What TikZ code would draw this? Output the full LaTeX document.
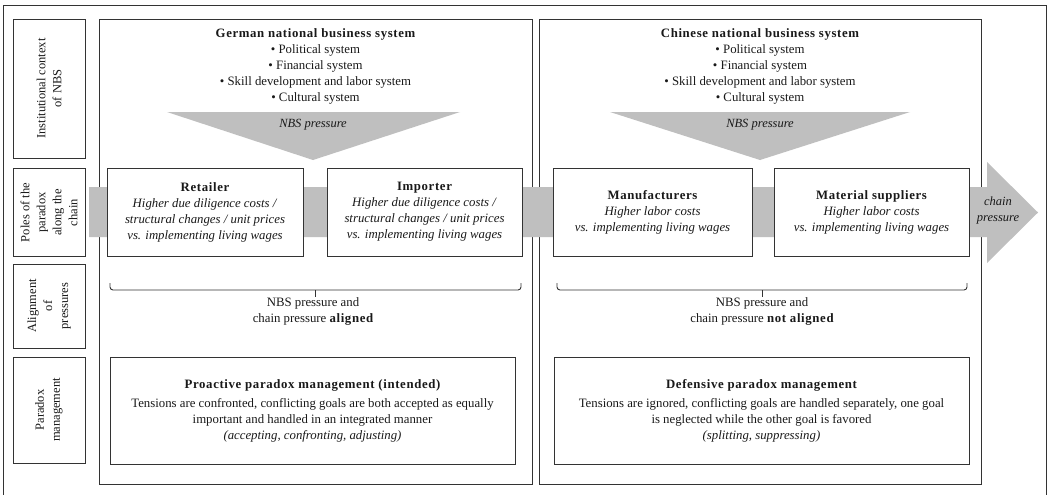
\documentclass[tikz,border=0pt]{standalone}
\usepackage{fontspec}
\setmainfont{Liberation Serif}
\newcommand{\bt}[1]{{\bfseries\addfontfeature{LetterSpace=5}#1}}
\begin{document}
\begin{tikzpicture}[x=1pt,y=-1pt,
  every node/.style={text=black!90, font=\fontsize{12.8}{16}\selectfont, inner sep=0pt, align=center},
  itx/.style={font=\fontsize{12.5}{16}\selectfont\itshape},
  frm/.style={draw=black!80, line width=0.9pt},
  bigbox/.style={frm, fill=white},
  lblbox/.style={frm, fill=white, rotate=90, font=\fontsize{12.5}{16}\selectfont},
  pbox/.style={frm, fill=white},
  band/.style={fill=black!25, draw=none},
  brc/.style={draw=black!80, line width=0.9pt, rounded corners=3pt},
]
\useasboundingbox (0,0) rectangle (1047,495);
% outer frame
\draw[frm] (3,5) rectangle (1046,497);
% left labels
\node[lblbox, minimum width=139, minimum height=72] (inst) at (49,88.5) {Institutional context\\of NBS};
\node[lblbox, minimum width=88, minimum height=72] (poles) at (49,212.5) {Poles of the\\paradox\\along the\\chain};
\node[lblbox, minimum width=84, minimum height=72] (alig) at (49,306) {Alignment\\of\\pressures};
\node[lblbox, minimum width=106, minimum height=72] (pman) at (49,410) {Paradox\\management};
% big boxes
\node[bigbox, minimum width=433, minimum height=465] (ger) at (315.5,251.5) {};
\node[bigbox, minimum width=442, minimum height=465] (chn) at (760,251.5) {};
% NBS headers
\node (gerT) at (315.5,66) {\bt{German national business system}\\\textbullet{} Political system\\\textbullet{} Financial system\\\textbullet{} Skill development and labor system\\\textbullet{} Cultural system};
\node (chnT) at (760,66) {\bt{Chinese national business system}\\\textbullet{} Political system\\\textbullet{} Financial system\\\textbullet{} Skill development and labor system\\\textbullet{} Cultural system};
% NBS pressure triangles
\fill[band] (167,112) -- (460,112) -- (313,160) -- cycle;
\fill[band] (610,112) -- (910,112) -- (760,160) -- cycle;
\node[itx] (gerP) at (313,125) {NBS pressure};
\node[itx] (chnP) at (760,125) {NBS pressure};
% chain pressure band
\fill[band] (89,187) -- (987,187) -- (987,162) -- (1038,212.5) -- (987,263) -- (987,237) -- (89,237) -- cycle;
\node[itx] (chainP) at (998,210) {chain\\pressure};
% poles boxes
\node[pbox, minimum width=196, minimum height=88] (ret) at (205,212) {\bt{Retailer}\\\textit{Higher due diligence costs /}\\\textit{structural changes / unit prices}\\\textit{vs. implementing living wages}};
\node[pbox, minimum width=195, minimum height=88] (imp) at (424.5,212) {\bt{Importer}\\\textit{Higher due diligence costs /}\\\textit{structural changes / unit prices}\\\textit{vs. implementing living wages}};
\node[pbox, minimum width=199, minimum height=88] (man) at (652.5,212) {\bt{Manufacturers}\\\textit{Higher labor costs}\\\textit{vs. implementing living wages}};
\node[pbox, minimum width=195, minimum height=88] (mat) at (871.5,212) {\bt{Material suppliers}\\\textit{Higher labor costs}\\\textit{vs. implementing living wages}};
% braces
\draw[brc] (110,283) -- (110,290) -- (521,290) -- (521,283);
\draw[brc] (315,290) -- (315,297);
\draw[brc] (557,283) -- (557,290) -- (967,290) -- (967,283);
\draw[brc] (762,290) -- (762,297);
\node (gerA) at (313,311) {NBS pressure and\\chain pressure \bt{aligned}};
\node (chnA) at (762,311) {NBS pressure and\\chain pressure \bt{not aligned}};
% paradox management boxes
\node[pbox, minimum width=405, minimum height=107] (pro) at (312.5,410.5) {\bt{Proactive paradox management (intended)}\\[3pt]Tensions are confronted, conflicting goals are both accepted as equally\\important and handled in an integrated manner\\\textit{(accepting, confronting, adjusting)}};
\node[pbox, minimum width=415, minimum height=107] (def) at (761.5,410.5) {\bt{Defensive paradox management}\\[3pt]Tensions are ignored, conflicting goals are handled separately, one goal\\is neglected while the other goal is favored\\\textit{(splitting, suppressing)}};
\end{tikzpicture}
\end{document}
